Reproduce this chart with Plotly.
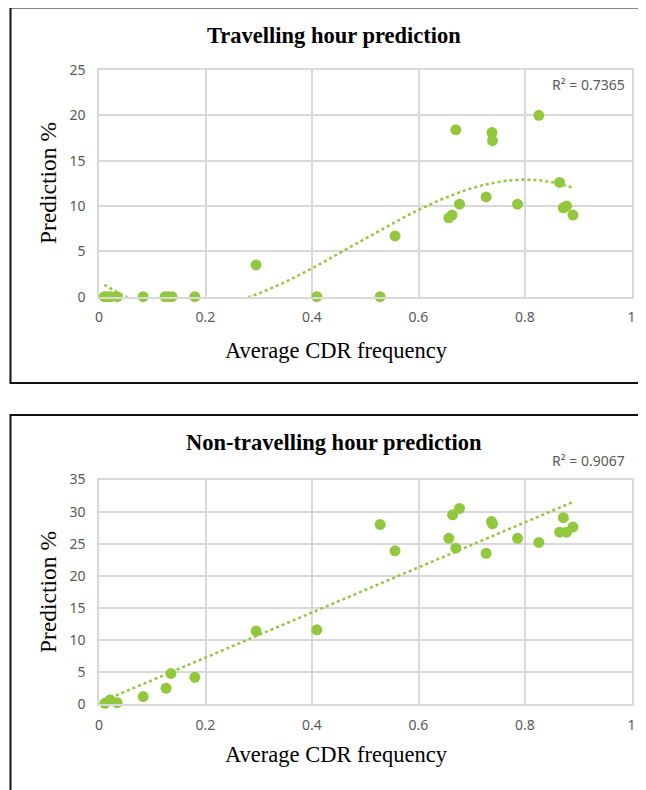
import numpy as np
import plotly.graph_objects as go

# ---- data ----
travel_x = [0.010, 0.015, 0.022, 0.034, 0.083, 0.124, 0.130, 0.137, 0.180,
            0.295, 0.409, 0.528, 0.556, 0.657, 0.663, 0.677, 0.670, 0.738,
            0.739, 0.727, 0.786, 0.826, 0.865, 0.872, 0.878, 0.890]
travel_y = [0.0, 0.0, 0.0, 0.0, 0.0, 0.0, 0.0, 0.0, 0.0,
            3.5, 0.0, 0.0, 6.7, 8.7, 9.0, 10.2, 18.4, 18.1,
            17.2, 11.0, 10.2, 20.0, 12.6, 9.8, 10.0, 9.0]

nontravel_x = [0.011, 0.021, 0.034, 0.083, 0.126, 0.135, 0.180, 0.295, 0.409,
               0.528, 0.556, 0.657, 0.664, 0.677, 0.670, 0.737, 0.739, 0.727,
               0.786, 0.826, 0.872, 0.865, 0.878, 0.890]
nontravel_y = [0.15, 0.7, 0.25, 1.2, 2.5, 4.8, 4.2, 11.4, 11.6,
               28.0, 23.9, 25.85, 29.5, 30.5, 24.3, 28.45, 28.1, 23.5,
               25.85, 25.2, 29.05, 26.8, 26.8, 27.6]

x_ticks = [0, 0.2, 0.4, 0.6, 0.8, 1]
x_tick_labels = ["0", "0.2", "0.4", "0.6", "0.8", "1"]
titles = ["Travelling hour prediction", "Non-travelling hour prediction"]
r2_labels = ["R² = 0.7365", "R² = 0.9067"]
x_title = "Average CDR frequency"
y_title = "Prediction %"

GREEN = "#92C83E"
GRID = "#D9D9D9"
TICKC = "#595959"
OFF = 8            # page body margin
W, H = 646, 790

def px_x(p):
    return (p - OFF) / W

def px_y(p):
    return 1 - (p - OFF) / H

# trendlines derived from data
c3 = np.polyfit(travel_x, travel_y, 3)
tx = np.linspace(min(travel_x), max(travel_x), 200)
ty = np.polyval(c3, tx)
c1 = np.polyfit(nontravel_x, nontravel_y, 1)
nx = np.linspace(min(nontravel_x), max(nontravel_x), 50)
ny = np.polyval(c1, nx)

fig = go.Figure()
fig.add_trace(go.Scatter(x=tx, y=ty, mode="lines",
                         line=dict(color=GREEN, width=2.5, dash="dot"),
                         xaxis="x", yaxis="y", hoverinfo="skip"))
fig.add_trace(go.Scatter(x=travel_x, y=travel_y, mode="markers",
                         marker=dict(color=GREEN, size=11),
                         cliponaxis=False, xaxis="x", yaxis="y"))
fig.add_trace(go.Scatter(x=nx, y=ny, mode="lines",
                         line=dict(color=GREEN, width=2.5, dash="dot"),
                         xaxis="x2", yaxis="y2", hoverinfo="skip"))
fig.add_trace(go.Scatter(x=nontravel_x, y=nontravel_y, mode="markers",
                         marker=dict(color=GREEN, size=11),
                         cliponaxis=False, xaxis="x2", yaxis="y2"))

xdom = [px_x(99), px_x(631.5)]
common_x = dict(range=[0, 1], tickvals=x_ticks, ticktext=x_tick_labels,
                showgrid=True, gridcolor=GRID, gridwidth=1.5,
                showline=True, linecolor=GRID, linewidth=1.5, mirror=True,
                zeroline=False, ticks="", automargin=False, ticklabelstandoff=7,
                tickfont=dict(family="Noto Sans", size=14, color=TICKC))
common_y = dict(showgrid=True, gridcolor=GRID, gridwidth=1.5,
                showline=True, linecolor=GRID, linewidth=1.5, mirror=True,
                zeroline=False, ticks="", automargin=False, ticklabelstandoff=9,
                tickfont=dict(family="Noto Sans", size=14, color=TICKC))

fig.update_layout(
    width=W, height=H, margin=dict(l=0, r=0, t=0, b=0, pad=0, autoexpand=False),
    paper_bgcolor="white", plot_bgcolor="white", showlegend=False,
    xaxis=dict(common_x, domain=xdom, anchor="y"),
    yaxis=dict(common_y, domain=[px_y(296.7), px_y(70)], range=[0, 25],
               tickvals=[0, 5, 10, 15, 20, 25], anchor="x"),
    xaxis2=dict(common_x, domain=xdom, anchor="y2"),
    yaxis2=dict(common_y, domain=[px_y(704.3), px_y(479.5)], range=[0, 35],
                tickvals=[0, 5, 10, 15, 20, 25, 30, 35], anchor="x2"),
)

# frames
fig.add_shape(type="rect", xref="paper", yref="paper",
              x0=px_x(10.5), x1=1.05, y0=px_y(383), y1=px_y(7.5),
              line=dict(color="#111", width=2), fillcolor="rgba(0,0,0,0)")
fig.add_shape(type="rect", xref="paper", yref="paper",
              x0=px_x(10.5), x1=1.05, y0=-0.05, y1=px_y(415),
              line=dict(color="#111", width=2), fillcolor="rgba(0,0,0,0)")

serif = dict(family="Liberation Serif", color="#000")
for t, yy in zip(titles, [36, 442]):
    fig.add_annotation(text="<b>" + t + "</b>", xref="paper", yref="paper",
                       x=px_x(334), y=px_y(yy), showarrow=False,
                       font=dict(serif, size=22.5), xanchor="center", yanchor="middle")
for yy in [350, 754]:
    fig.add_annotation(text=x_title, xref="paper", yref="paper",
                       x=px_x(336), y=px_y(yy), showarrow=False,
                       font=dict(serif, size=22.5), xanchor="center", yanchor="middle")
for yy in [183, 592]:
    fig.add_annotation(text=y_title, xref="paper", yref="paper",
                       x=px_x(48), y=px_y(yy), showarrow=False, textangle=-90,
                       font=dict(serif, size=23.5), xanchor="center", yanchor="middle")
for t, yy in zip(r2_labels, [85, 461]):
    fig.add_annotation(text=t, xref="paper", yref="paper",
                       x=px_x(627), y=px_y(yy), showarrow=False,
                       font=dict(family="Noto Sans", size=14, color=TICKC),
                       xanchor="right", yanchor="middle")

fig.write_html("out.html")
